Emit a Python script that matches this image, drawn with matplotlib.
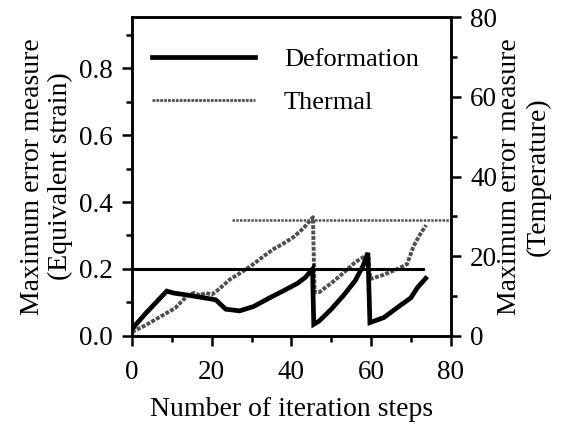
import matplotlib
matplotlib.use("Agg")
import matplotlib.pyplot as plt
from matplotlib.lines import Line2D
from matplotlib.ticker import MultipleLocator

# ---- data ----
deform_x = [0, 1, 3.3, 6, 8.7, 10.5, 14, 17.5, 21, 23.5, 27, 30.5, 34.7, 38, 41.5, 43.5, 45.3,
            45.6, 47, 50, 53, 56, 58, 59.2,
            59.7, 63.2, 66.6, 70, 71.6, 73.7]
deform_y = [0.02, 0.035, 0.066, 0.10, 0.134, 0.128, 0.122, 0.115, 0.108, 0.08, 0.075, 0.088, 0.115, 0.135, 0.157, 0.175, 0.20,
            0.035, 0.045, 0.08, 0.12, 0.165, 0.21, 0.248,
            0.04, 0.055, 0.085, 0.114, 0.144, 0.172]

thermal_x = [0, 3, 6.5, 10.8, 14, 15.5, 17, 18.5, 20, 21.5, 24.7, 27.5, 30.4, 33, 35.5, 38, 40.5, 43, 45.4,
             45.8, 47, 50.2, 53.6, 56, 59.2,
             59.8, 63, 66.6, 69, 70.7, 72.3, 73.8]
thermal_y = [1, 2.5, 4.5, 7, 10.2, 10.8, 10.2, 10.8, 10.4, 11.5, 14.3, 16, 18, 20, 21.8, 23.2, 24.8, 27, 29.8,
             11, 11, 13.4, 16.3, 18.5, 20.5,
             14.3, 15.3, 16.8, 18, 22.6, 25.5, 27.8]

deform_limit = 0.2
deform_limit_x = [0, 73]
thermal_limit = 29
thermal_limit_x = [25, 80]

x_ticks = [0, 20, 40, 60, 80]
left_ticks = [0.0, 0.2, 0.4, 0.6, 0.8]
right_ticks = [0, 20, 40, 60, 80]

plt.rcParams['font.family'] = ['Liberation Serif', 'DejaVu Serif']
FS_TICK = 19.5
FS_LAB = 20

fig = plt.figure(figsize=(5.67, 4.28), dpi=100)
ax = fig.add_axes([0.233, 0.215, 0.562, 0.745])
ax2 = ax.twinx()

grey = '#4f4f4f'

ax.plot(deform_limit_x, [deform_limit, deform_limit], color='black', lw=2.2)
ax2.plot(thermal_limit_x, [thermal_limit, thermal_limit], color=grey, lw=1.8,
         linestyle=(0, (1, 0.5)))
ax2.plot(thermal_x, thermal_y, color=grey, lw=2.8, linestyle=(0, (1, 0.4)))
ax.plot(deform_x, deform_y, color='black', lw=3.4, solid_joinstyle='miter')

ax.set_zorder(ax2.get_zorder() + 1)
ax.patch.set_visible(False)

ax.set_xlim(0, 80)
ax.set_ylim(0, 0.952)
ax2.set_ylim(0, 80)

ax.set_xticks(x_ticks)
ax.xaxis.set_minor_locator(MultipleLocator(10))
ax.set_yticks(left_ticks)
ax.set_yticklabels([f"{v:.1f}" for v in left_ticks])
ax.yaxis.set_minor_locator(MultipleLocator(0.1))
ax2.set_yticks(right_ticks)
ax2.yaxis.set_minor_locator(MultipleLocator(10))

for a in (ax, ax2):
    a.tick_params(which='major', direction='out', length=7, width=1.8, labelsize=FS_TICK)
    a.tick_params(which='minor', direction='out', length=4, width=1.8)
    for s in a.spines.values():
        s.set_linewidth(1.8)
ax.tick_params(axis='x', which='both', top=False, pad=10)
ax.tick_params(axis='y', which='major', pad=7)
ax2.tick_params(axis='y', which='major', pad=7)

ax.set_xlabel("Number of iteration steps", fontsize=FS_LAB, labelpad=9)
ax.set_ylabel("Maximum error measure\n(Equivalent strain)", fontsize=FS_LAB, labelpad=4, linespacing=1.15)
ax2.set_ylabel("Maximum error measure\n(Temperature)", fontsize=FS_LAB, labelpad=0, linespacing=1.15)

handles = [Line2D([], [], color='black', lw=3.4),
           Line2D([], [], color=grey, lw=2.0, linestyle=(0, (1, 0.4)))]
ax.legend(handles, ["Deformation", "Thermal"], loc='upper left',
          bbox_to_anchor=(0.062, 0.905), frameon=False, fontsize=19,
          handlelength=3.9, handletextpad=1.1, labelspacing=0.75, borderpad=0,
          borderaxespad=0)

fig.savefig("out.png", dpi=100)
